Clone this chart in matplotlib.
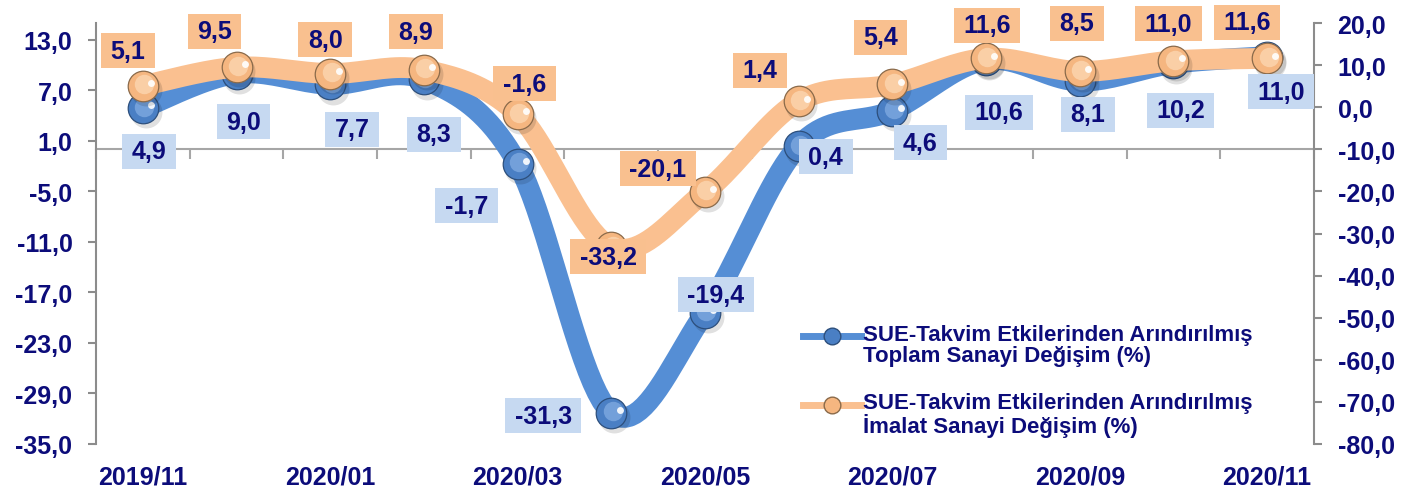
import os
import numpy as np
import matplotlib
matplotlib.use("Agg")
import matplotlib.pyplot as plt
import matplotlib.font_manager as fm
from matplotlib.lines import Line2D
from matplotlib.path import Path
from matplotlib.transforms import ScaledTranslation

plt.rcParams['font.family'] = ['Liberation Sans', 'DejaVu Sans']
plt.rcParams['font.weight'] = 'bold'

# data
months = ['2019/11', '2019/12', '2020/01', '2020/02', '2020/03', '2020/04', '2020/05',
          '2020/06', '2020/07', '2020/08', '2020/09', '2020/10', '2020/11']
toplam = [4.9, 9.0, 7.7, 8.3, -1.7, -31.3, -19.4, 0.4, 4.6, 10.6, 8.1, 10.2, 11.0]
imalat = [5.1, 9.5, 8.0, 8.9, -1.6, -33.2, -20.1, 1.4, 5.4, 11.6, 8.5, 11.0, 11.6]
left_ticks = list(range(-35, 14, 6))
right_ticks = list(range(-80, 21, 10))
legend_labels = ['SUE-Takvim Etkilerinden Arındırılmış\nToplam Sanayi Değişim (%)',
                 'SUE-Takvim Etkilerinden Arındırılmış\nİmalat Sanayi Değişim (%)']

# label offsets in pixels (right, down) from each point
toplam_off = [(6, 43), (7, 48), (22, 45), (10, 55), (-51, 42), (-68, 3), (11, -18),
              (27, 11), (28, 32), (13, 52), (8, 33), (7, 47), (14, 35)]
imalat_off = [(-15, -35), (-22, -36), (-5, -34), (-8, -38), (7, -30), (-3, 10), (-47, -23),
              (-39, -31), (-12, -47), (1, -33), (-3, -48), (-5, -37), (-20, -36)]

NAVY = '#0c0c7a'
GRAY = '#8c8c8c'
BLUE_LINE = '#558ed5'
ORANGE_LINE = '#fac090'
BLUE_BOX = '#c6d9f1'
ORANGE_BOX = '#f9c08f'
FS = 18

# pick the regular-width Liberation Sans Bold file (avoid the Narrow variant)
bold_path = None
for f in fm.findSystemFonts():
    if os.path.basename(f) == 'LiberationSans-Bold.ttf':
        bold_path = f
        break


def fp(size):
    if bold_path:
        return fm.FontProperties(fname=bold_path, size=size)
    return fm.FontProperties(family='Liberation Sans', weight='bold', size=size)


def comma(v):
    return f"{v:.1f}".replace('.', ',')


def label_box(x0, y0, width, height, mutation_size):
    # wider padding left/right than top/bottom, like the Excel label boxes
    px = 0.38 * mutation_size
    py = 0.22 * mutation_size
    x1, y1 = x0 + width + px, y0 + height + py
    x0, y0 = x0 - px, y0 - py
    return Path([(x0, y0), (x1, y0), (x1, y1), (x0, y1), (x0, y0)], closed=True)


def smooth(x, y, n=20):
    # Catmull-Rom curve through the points (like Excel's smoothed line)
    x = np.asarray(x, float)
    y = np.asarray(y, float)
    px = np.concatenate([[x[0]], x, [x[-1]]])
    py = np.concatenate([[y[0]], y, [y[-1]]])
    xs, ys = [], []
    t = np.linspace(0, 1, n, endpoint=False)
    for i in range(1, len(px) - 2):
        p0, p1, p2, p3 = [np.array([px[j], py[j]]) for j in (i - 1, i, i + 1, i + 2)]
        for tt in t:
            pt = 0.5 * ((2 * p1) + (-p0 + p2) * tt + (2 * p0 - 5 * p1 + 4 * p2 - p3) * tt ** 2
                        + (-p0 + 3 * p1 - 3 * p2 + p3) * tt ** 3)
            xs.append(pt[0])
            ys.append(pt[1])
    xs.append(x[-1])
    ys.append(y[-1])
    return np.array(xs), np.array(ys)


def spheres(ax, x, y, base, light, edge, z):
    fig = ax.figure
    shadow = ax.transData + ScaledTranslation(2 / 72, -3 / 72, fig.dpi_scale_trans)
    ax.scatter(x, y, s=23 ** 2, color='#000000', alpha=0.12, lw=0, transform=shadow, zorder=z)
    ax.scatter(x, y, s=22 ** 2, color=base, edgecolors=edge, linewidths=0.9, zorder=z + 0.1)
    inner = ax.transData + ScaledTranslation(1 / 72, 1 / 72, fig.dpi_scale_trans)
    ax.scatter(x, y, s=14 ** 2, color=light, lw=0, alpha=0.8, transform=inner, zorder=z + 0.2)
    spec = ax.transData + ScaledTranslation(6 / 72, 2 / 72, fig.dpi_scale_trans)
    ax.scatter(x, y, s=5 ** 2, color='white', lw=0, alpha=0.9, transform=spec, zorder=z + 0.3)


fig = plt.figure(figsize=(14.01, 4.89), dpi=100)
ax = fig.add_axes([96 / 1401, 1 - 445 / 489, (1314 - 96) / 1401, (445 - 24) / 489])
ax2 = ax.twinx()
xpos = np.arange(len(months))

ax.set_xlim(-0.5, len(months) - 0.5)
ax.set_ylim(-35, 15)
ax2.set_ylim(-80, 20)

# lines
sx, sy = smooth(xpos, toplam)
ax.plot(sx, sy, color=BLUE_LINE, lw=15, solid_capstyle='round', zorder=2)
spheres(ax, xpos, toplam, '#4a7fc4', '#7ea9e0', '#2d4f7c', 3)
sx, sy = smooth(xpos, imalat)
ax2.plot(sx, sy, color=ORANGE_LINE, lw=15, solid_capstyle='round', zorder=2)
spheres(ax2, xpos, imalat, '#f5b680', '#fcd6b0', '#8a6a4a', 3)

# data labels
for i in range(len(months)):
    dx, dy = toplam_off[i]
    ax2.annotate(comma(toplam[i]), xy=(xpos[i], toplam[i]), xycoords=ax.transData,
                 xytext=(dx * 0.72, -dy * 0.72), textcoords='offset points',
                 ha='center', va='center', fontproperties=fp(FS), color=NAVY, zorder=10,
                 bbox=dict(boxstyle=label_box, fc=BLUE_BOX, ec='none'))
    dx, dy = imalat_off[i]
    ax2.annotate(comma(imalat[i]), xy=(xpos[i], imalat[i]), xycoords=ax2.transData,
                 xytext=(dx * 0.72, -dy * 0.72), textcoords='offset points',
                 ha='center', va='center', fontproperties=fp(FS), color=NAVY, zorder=10,
                 bbox=dict(boxstyle=label_box, fc=ORANGE_BOX, ec='none'))

# axes styling
for a in (ax, ax2):
    a.spines['top'].set_visible(False)
ax.spines['right'].set_visible(False)
ax2.spines['left'].set_visible(False)
ax2.spines['bottom'].set_visible(False)
ax.spines['left'].set_color(GRAY)
ax.spines['left'].set_linewidth(1.5)
ax2.spines['right'].set_color(GRAY)
ax2.spines['right'].set_linewidth(1.5)
ax.spines['bottom'].set_position(('data', 0))
ax.spines['bottom'].set_color('#a6a6a6')
ax.spines['bottom'].set_linewidth(1.5)
ax.spines['bottom'].set_zorder(0.5)

ax.set_yticks(left_ticks, [comma(t) for t in left_ticks], fontproperties=fp(FS))
ax2.set_yticks(right_ticks, [comma(t) for t in right_ticks], fontproperties=fp(FS))
ax.tick_params(axis='y', length=6, width=1.5, color=GRAY, labelcolor=NAVY, pad=11)
ax2.tick_params(axis='y', length=6, width=1.5, color=GRAY, labelcolor=NAVY, pad=11)

ax.set_xticks(np.arange(-0.5, len(months), 1), [''] * (len(months) + 1))
ax.tick_params(axis='x', direction='out', length=7, width=1.5, color='#a6a6a6')
ax2.tick_params(axis='x', length=0, labelbottom=False)

sec = ax.secondary_xaxis('bottom')
sec.set_xticks(xpos[::2], months[::2], fontproperties=fp(FS))
sec.tick_params(length=0, labelcolor=NAVY, pad=15)
sec.spines['bottom'].set_visible(False)

# legend
handles = [
    Line2D([], [], color=BLUE_LINE, lw=5, marker='o', ms=12, mfc='#4a7fc4', mec='#2d4f7c'),
    Line2D([], [], color=ORANGE_LINE, lw=5, marker='o', ms=12, mfc='#f5b680', mec='#8a6a4a'),
]
leg = ax2.legend(handles, legend_labels, loc='upper left', bbox_to_anchor=(803 / 1401, 1 - 320 / 489),
                 bbox_transform=fig.transFigure, frameon=False, labelcolor=NAVY,
                 prop=fp(16), handlelength=2.6, handleheight=3.5, handletextpad=0.1,
                 borderpad=0, borderaxespad=0, labelspacing=0.6)
for t in leg.get_texts():
    t.set_linespacing(1.0)
leg.set_zorder(20)

fig.savefig('out.png', dpi=100)
